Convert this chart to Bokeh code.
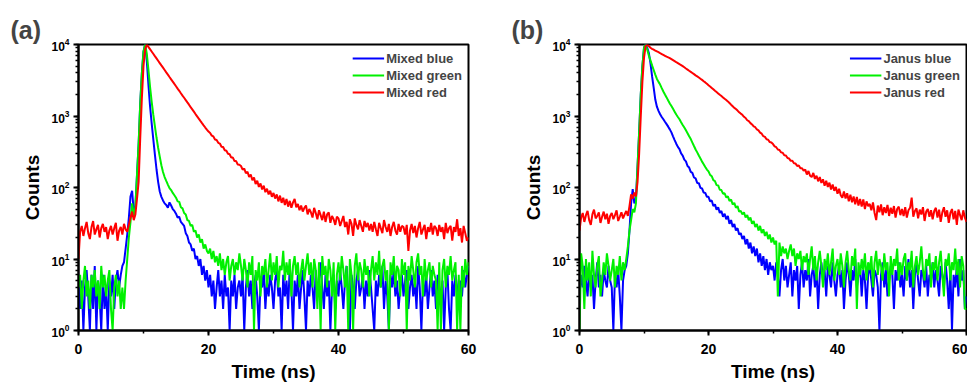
from bokeh.plotting import figure
from bokeh.layouts import row
from bokeh.models import Range1d, SingleIntervalTicker, LogTicker
from bokeh.embed import file_html
from bokeh.resources import INLINE

# Sampling step of the time axis (ns)
STEP_NS = 0.25

# ---------------- Panel (a): Mixed ----------------
MIXED_BLUE = [
    6, 2, 5, 1, 4, 7, 3, 1, 6, 2, 8, 1, 5, 3, 1, 6, 2, 4, 1, 5,
    3, 6, 2, 5, 7, 4, 6, 8, 9, 14, 22, 38, 75, 90, 45, 55, 150, 400, 1500, 4000,
    8000, 10000, 6000, 2800, 1400, 800, 480, 290, 180, 120, 88, 74, 66, 60, 57, 52, 62, 56, 50, 47,
    43, 38, 39, 33, 31, 29, 23, 21, 17, 16, 13, 14, 10, 11, 8, 10, 6, 8, 5, 7,
    4, 6, 3, 5, 2, 4, 7, 3, 5, 2, 6, 3, 4, 1, 5, 3, 6, 2, 4, 5,
    3, 6, 1, 4, 7, 3, 5, 2, 4, 6, 3, 1, 5, 4, 7, 2, 5, 3, 6, 4,
    2, 5, 7, 3, 4, 1, 6, 3, 5, 2, 8, 4, 1, 5, 3, 6, 2, 4, 7, 3,
    1, 5, 3, 6, 4, 2, 7, 3, 5, 9, 4, 2, 6, 3, 5, 1, 4, 6, 2, 5,
    3, 7, 4, 2, 5, 8, 3, 1, 6, 4, 2, 5, 7, 3, 4, 6, 2, 5, 3, 7,
    4, 2, 1, 5, 3, 6, 4, 8, 2, 5, 3, 1, 6, 4, 7, 3, 5, 2, 4, 6,
    3, 5, 7, 2, 4, 6, 3, 5, 2, 8, 4, 1, 5, 3, 6, 2, 4, 7, 3, 5,
    2, 6, 4, 3, 5, 1, 4, 7, 2, 1, 5, 3, 6, 4, 2, 5, 3, 7, 4, 6,
    8,
]
MIXED_GREEN = [
    4, 6, 2, 5, 8, 3, 5, 2, 6, 4, 7, 3, 5, 2, 8, 4, 6, 3, 5, 7,
    2, 1, 4, 6, 3, 5, 2, 4, 2, 5, 10, 20, 33, 60, 40, 52, 150, 420, 1500, 4000,
    8000, 10000, 7500, 4500, 2600, 1600, 1050, 720, 500, 360, 270, 205, 165, 140, 124, 110, 98, 92, 84, 78,
    72, 64, 63, 53, 51, 44, 42, 35, 34, 29, 30, 24, 25, 20, 22, 17, 19, 14, 16, 13,
    12, 14, 10, 13, 9, 11, 8, 12, 7, 10, 6, 9, 11, 5, 8, 10, 6, 9, 7, 12,
    8, 5, 10, 7, 4, 9, 6, 11, 1, 7, 5, 9, 3, 8, 6, 10, 4, 7, 12, 5,
    9, 6, 11, 4, 8, 7, 13, 5, 9, 6, 10, 3, 8, 11, 6, 9, 4, 7, 10, 5,
    8, 12, 6, 9, 4, 10, 7, 2, 9, 1, 11, 6, 8, 4, 10, 7, 3, 9, 1, 6,
    9, 5, 11, 7, 4, 8, 1, 10, 6, 1, 8, 12, 5, 9, 7, 4, 10, 6, 8, 3,
    7, 11, 5, 9, 6, 13, 4, 8, 10, 5, 7, 1, 9, 6, 11, 4, 8, 7, 3, 10,
    6, 9, 1, 8, 5, 11, 7, 4, 9, 12, 6, 8, 3, 10, 5, 7, 9, 4, 8, 6,
    5, 1, 9, 1, 7, 10, 4, 8, 6, 11, 5, 7, 9, 1, 6, 1, 8, 4, 10, 6,
    9,
]
MIXED_RED = [
    10, 24, 29, 21, 27, 33, 23, 19, 28, 34, 22, 26, 30, 20, 27, 31, 24, 28, 19, 25,
    29, 22, 27, 32, 18, 25, 28, 22, 31, 26, 24, 30, 38, 46, 35, 42, 70, 120, 500, 1800,
    5000, 8500, 10000, 9280, 8610, 7990, 7420, 6880, 6390, 5930, 5500, 5100, 4740, 4400, 4080, 3790, 3510, 3260, 3030, 2810,
    2610, 2420, 2250, 2080, 1930, 1800, 1670, 1550, 1440, 1330, 1240, 1150, 1065, 990, 920, 855, 795, 740, 690, 645,
    605, 578, 532, 518, 470, 462, 422, 412, 372, 368, 332, 326, 296, 292, 262, 262, 234, 234, 210, 208,
    200, 178, 184, 158, 166, 140, 152, 126, 138, 112, 124, 102, 114, 94, 106, 86, 96, 80, 90, 74,
    84, 70, 80, 64, 77, 61, 72, 57, 69, 54, 65, 52, 62, 69, 53, 59, 48, 56, 46, 52,
    56, 42, 50, 45, 38, 52, 44, 36, 48, 41, 35, 46, 33, 42, 45, 32, 40, 36, 30, 39,
    37, 29, 34, 40, 28, 33, 22, 36, 31, 21, 37, 30, 26, 35, 29, 24, 34, 28, 32, 25,
    31, 24, 33, 26, 21, 32, 27, 23, 35, 28, 24, 31, 21, 28, 33, 25, 22, 31, 24, 29,
    28, 22, 30, 13, 25, 31, 23, 29, 20, 27, 33, 22, 26, 30, 19, 28, 24, 32, 22, 29,
    27, 21, 30, 24, 28, 19, 32, 23, 27, 29, 18, 28, 24, 36, 21, 27, 17, 29, 23, 18,
    20,
]

# ---------------- Panel (b): Janus ----------------
JANUS_BLUE = [
    3, 6, 4, 8, 5, 3, 7, 4, 6, 2, 5, 9, 4, 6, 3, 7, 5, 4, 8, 5,
    4, 1, 6, 4, 7, 3, 1, 5, 7, 8, 12, 25, 60, 95, 60, 70, 200, 600, 2000, 5000,
    9000, 10000, 9000, 7600, 5500, 3600, 2500, 1700, 1350, 1180, 1060, 970, 900, 830, 770, 710, 650, 590, 520, 460,
    410, 370, 345, 300, 280, 245, 232, 200, 190, 165, 160, 138, 134, 116, 115, 99, 97, 85, 84, 74,
    74, 64, 66, 55, 58, 49, 53, 44, 47, 39, 43, 36, 40, 31, 35, 28, 31, 25, 27, 22,
    23, 19, 21, 16, 19, 14, 17, 12, 15, 11, 14, 9, 12, 8, 11, 7, 10, 6, 9, 7,
    8, 5, 9, 6, 3, 7, 10, 5, 8, 4, 6, 9, 3, 7, 5, 8, 2, 6, 9, 4,
    7, 5, 10, 3, 6, 8, 4, 7, 2, 6, 9, 5, 7, 3, 8, 6, 4, 9, 5, 3,
    6, 8, 4, 7, 2, 5, 9, 6, 3, 7, 5, 10, 4, 6, 8, 3, 7, 5, 2, 6,
    8, 5, 3, 7, 6, 4, 1, 6, 9, 4, 7, 3, 5, 8, 6, 2, 7, 5, 9, 4,
    6, 3, 8, 5, 10, 4, 7, 2, 6, 9, 5, 3, 7, 6, 4, 8, 3, 6, 5, 9,
    4, 7, 5, 3, 8, 6, 4, 9, 5, 2, 7, 1, 6, 4, 8, 3, 10, 5, 7, 2,
    3,
]
JANUS_GREEN = [
    1, 12, 8, 2, 10, 5, 9, 3, 13, 6, 4, 8, 11, 3, 5, 9, 6, 12, 8, 5,
    7, 10, 4, 8, 6, 11, 5, 9, 7, 10, 15, 25, 35, 50, 45, 60, 200, 600, 2000, 5000,
    9000, 10000, 8500, 7000, 6000, 5100, 4400, 3800, 3300, 3000, 2750, 2450, 2200, 2000, 1820, 1650, 1500, 1380, 1260, 1150,
    1050, 970, 900, 820, 750, 690, 630, 575, 520, 475, 425, 380, 340, 310, 280, 255, 230, 212, 194, 178,
    168, 150, 144, 127, 123, 108, 107, 93, 92, 82, 83, 73, 75, 65, 68, 58, 61, 52, 55, 46,
    47, 42, 45, 38, 41, 35, 38, 31, 34, 28, 31, 25, 29, 23, 26, 21, 24, 19, 22, 17,
    20, 16, 18, 3, 17, 11, 15, 12, 14, 10, 13, 16, 11, 14, 8, 12, 10, 13, 7, 11,
    9, 12, 6, 10, 15, 7, 11, 5, 9, 13, 8, 4, 10, 7, 12, 6, 9, 14, 5, 8,
    10, 6, 12, 8, 4, 9, 13, 7, 5, 11, 8, 14, 2, 9, 6, 10, 7, 12, 5, 9,
    7, 11, 4, 9, 13, 6, 10, 8, 5, 12, 7, 9, 3, 11, 6, 10, 8, 14, 5, 9,
    6, 10, 12, 5, 9, 7, 13, 4, 8, 11, 6, 9, 15, 7, 5, 10, 8, 12, 4, 9,
    7, 11, 5, 9, 13, 6, 3, 10, 8, 12, 5, 9, 7, 14, 6, 10, 4, 11, 8, 2,
    2,
]
JANUS_RED = [
    25, 38, 44, 33, 41, 47, 35, 30, 42, 49, 37, 40, 45, 32, 39, 46, 36, 43, 31, 40,
    44, 36, 41, 48, 34, 39, 45, 37, 42, 47, 40, 55, 80, 70, 85, 75, 120, 300, 1000, 3000,
    6500, 9500, 10000, 9500, 9000, 8700, 8450, 8200, 8000, 7800, 7550, 7350, 7150, 6950, 6750, 6600, 6450, 6250, 6050, 5850,
    5650, 5480, 5300, 5150, 4980, 4800, 4620, 4460, 4300, 4150, 4000, 3850, 3700, 3580, 3450, 3320, 3200, 3070, 2950, 2830,
    2700, 2580, 2470, 2360, 2250, 2160, 2070, 1980, 1900, 1820, 1740, 1670, 1600, 1520, 1440, 1370, 1300, 1250, 1190, 1130,
    1080, 1040, 975, 938, 872, 846, 795, 762, 714, 697, 648, 628, 585, 566, 522, 510, 472, 466, 432, 425,
    405, 376, 366, 340, 334, 310, 306, 282, 280, 258, 254, 236, 237, 218, 216, 200, 203, 186, 186, 172,
    178, 152, 170, 146, 140, 160, 132, 146, 122, 140, 116, 130, 106, 124, 102, 117, 94, 110, 90, 102,
    82, 96, 78, 72, 88, 70, 83, 64, 79, 62, 75, 58, 74, 56, 69, 54, 68, 50, 64, 55,
    59, 48, 62, 44, 35, 56, 45, 58, 41, 53, 44, 57, 40, 52, 43, 55, 38, 50, 54, 41,
    50, 40, 53, 38, 48, 52, 72, 39, 47, 51, 37, 49, 42, 53, 34, 46, 50, 39, 48, 36,
    47, 52, 38, 49, 33, 45, 53, 39, 48, 32, 44, 50, 36, 47, 30, 49, 41, 35, 48, 38,
    33,
]

LABELS_A = ["Mixed blue", "Mixed green", "Mixed red"]
LABELS_B = ["Janus blue", "Janus green", "Janus red"]
COLORS = ["#0000FF", "#00F000", "#FF0000"]
X_TICK_INTERVAL = 20
FONT = "Liberation Sans"


def make_panel(tag, labels, series, border_left, frame_w, border_right):
    p = figure(
        frame_width=frame_w, frame_height=286,
        min_border_left=border_left, min_border_right=border_right,
        min_border_top=44, min_border_bottom=45,
        x_range=Range1d(0, 60), y_range=Range1d(1, 1e4),
        y_axis_type="log",
        output_backend="svg", toolbar_location=None,
    )
    p.title.text = tag
    p.title.text_font = FONT
    p.title.text_font_size = "25px"
    p.title.text_font_style = "bold"
    p.title.align = "left"
    p.title.offset = -68
    p.title.standoff = 1

    for lab, vals, col in zip(labels, series, COLORS):
        t = [i * STEP_NS for i in range(len(vals))]
        p.line(t, vals, line_color=col, line_width=2, legend_label=lab)

    p.xgrid.visible = False
    p.ygrid.visible = False
    p.outline_line_color = "black"
    p.outline_line_width = 2
    p.outline_line_alpha = 1

    p.xaxis.ticker = SingleIntervalTicker(interval=X_TICK_INTERVAL, num_minor_ticks=2)
    p.yaxis.ticker = LogTicker(desired_num_ticks=5, num_minor_ticks=10)

    for ax in (p.xaxis[0], p.yaxis[0]):
        ax.axis_line_width = 2
        ax.major_tick_line_width = 2
        ax.minor_tick_line_width = 1.5
        ax.major_tick_in = 0
        ax.major_tick_out = 5
        ax.minor_tick_in = 0
        ax.minor_tick_out = 3
        ax.major_label_text_font = FONT
        ax.major_label_text_font_style = "bold"
        ax.major_label_text_color = "black"
        ax.axis_label_text_font = FONT
        ax.axis_label_text_font_style = "bold"
        ax.axis_label_text_font_size = "19px"
        ax.axis_label_text_color = "black"

    p.xaxis.major_label_text_font_size = "14px"
    p.yaxis.major_label_text_font_size = "12px"
    p.xaxis.axis_label = "Time (ns)"
    p.yaxis.axis_label = "Counts"
    p.xaxis.major_label_standoff = 8
    p.xaxis.axis_label_standoff = 4
    p.yaxis.major_label_standoff = 4
    p.yaxis.axis_label_standoff = 5

    lg = p.legend[0]
    lg.location = "top_right"
    lg.border_line_color = None
    lg.background_fill_alpha = 0
    lg.label_text_font = FONT
    lg.label_text_font_style = "bold"
    lg.label_text_font_size = "13px"
    lg.label_height = 16
    lg.glyph_height = 16
    lg.glyph_width = 32
    lg.label_standoff = 2
    lg.spacing = 1
    lg.margin = 6
    lg.padding = 3
    return p


pa = make_panel("(a)", LABELS_A, [MIXED_BLUE, MIXED_GREEN, MIXED_RED], 78, 390, 29)
pb = make_panel("(b)", LABELS_B, [JANUS_BLUE, JANUS_GREEN, JANUS_RED], 82, 387, 1)

layout = row(pa, pb)
open("out.html", "w").write(file_html(layout, INLINE))
